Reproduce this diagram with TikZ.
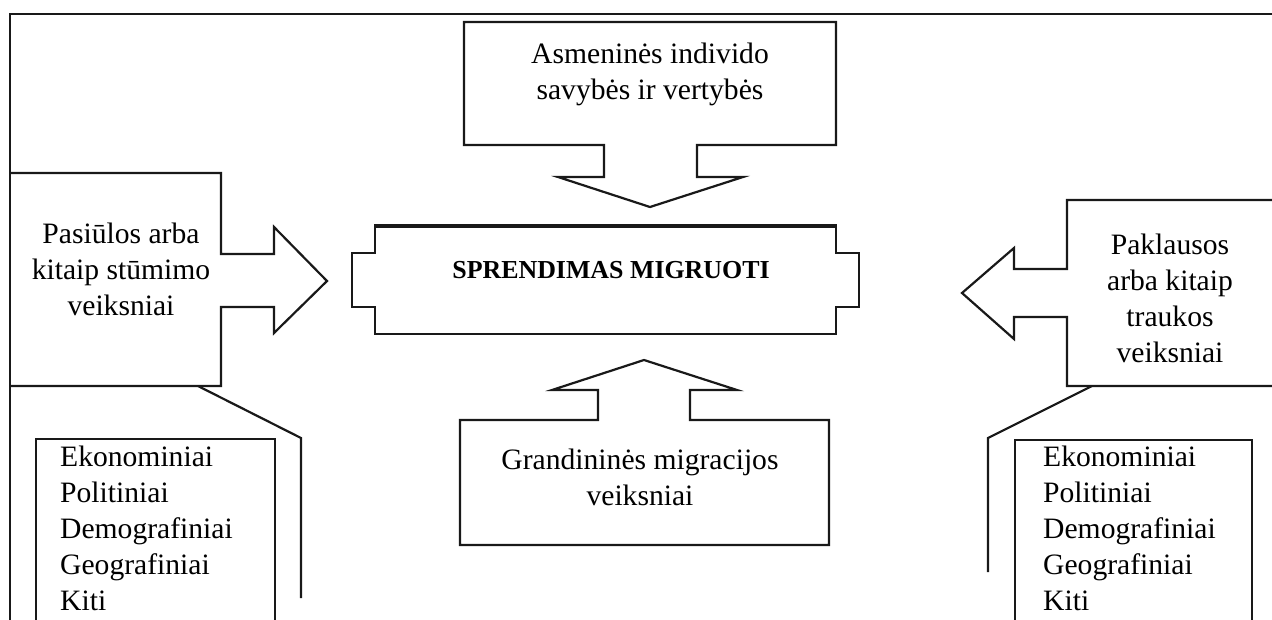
\documentclass[tikz,border=0pt]{standalone}
\usepackage{fontspec}
\setmainfont{Liberation Serif}
\begin{document}
\begin{tikzpicture}[x=1pt,y=-1pt,line join=miter,
  shp/.style={draw=black!90, line width=2.2pt},
  lbl/.style={font=\fontsize{29.6}{35.8}\selectfont, align=center, inner sep=0pt, anchor=base},
  lst/.style={font=\fontsize{29.6}{35.8}\selectfont, align=left, inner sep=0pt, anchor=base west}]
\useasboundingbox (0,0) rectangle (1272,619);
\begin{scope}
\clip (0,0) rectangle (1272,619);
% outer frame
\draw[shp, line width=2.6pt] (10,640) -- (10,14) -- (1290,14);
% left box with arrow
\draw[shp] (10,173) -- (221,173) -- (221,254) -- (274,254) -- (274,227) -- (327,281) -- (274,333) -- (274,307) -- (221,307) -- (221,386) -- (10,386);
% left connector
\coordinate (lc1) at (198,386);
\coordinate (lc2) at (301,438);
\coordinate (lc3) at (301,598);
\draw[shp] (lc1) -- (lc2) -- (lc3);
% left list box
\draw[shp] (36,640) -- (36,439) -- (275,439) -- (275,640);
% top box
\draw[shp] (604,145) -- (464,145) -- (464,22) -- (836,22) -- (836,145) -- (697,145) -- (697,177) -- (743,177) -- (650,207) -- (558,177) -- (604,177) -- cycle;
% center box
\draw[shp] (375,226) -- (836,226) -- (836,253) -- (859,253) -- (859,307) -- (836,307) -- (836,334) -- (375,334) -- (375,307) -- (352,307) -- (352,253) -- (375,253) -- cycle;
\draw[shp, line width=3.6pt] (374,226) -- (837,226);
% bottom box with arrow
\draw[shp] (598,420) -- (598,390) -- (552,390) -- (644,360) -- (737,390) -- (690,390) -- (690,420) -- (829,420) -- (829,545) -- (460,545) -- (460,420) -- cycle;
% right box with arrow
\draw[shp] (1290,200) -- (1067,200) -- (1067,269) -- (1014,269) -- (1014,248) -- (962,293) -- (1014,339) -- (1014,317) -- (1067,317) -- (1067,386) -- (1290,386);
% right connector
\coordinate (rc1) at (1092,386);
\coordinate (rc2) at (988,438);
\coordinate (rc3) at (988,572);
\draw[shp] (rc1) -- (rc2) -- (rc3);
% right list box
\draw[shp] (1015,640) -- (1015,440) -- (1252,440) -- (1252,640);
\end{scope}
% texts (anchor base = baseline of the last line)
\node[lbl] (asm) at (650,99) {Asmeninės individo\\savybės ir vertybės};
\node[lbl] (push) at (121,315) {Pasiūlos arba\\kitaip stūmimo\\veiksniai};
\node[lbl] (pull) at (1170,362) {Paklausos\\arba kitaip\\traukos\\veiksniai};
\node[lbl] (chain) at (640,505) {Grandininės migracijos\\veiksniai};
\node[inner sep=0pt, anchor=base, font=\fontsize{25.9}{30}\selectfont\bfseries] (dec) at (611,278) {SPRENDIMAS MIGRUOTI};
\node[lst] (llist) at (60,610) {Ekonominiai\\Politiniai\\Demografiniai\\Geografiniai\\Kiti};
\node[lst] (rlist) at (1043,610) {Ekonominiai\\Politiniai\\Demografiniai\\Geografiniai\\Kiti};
\end{tikzpicture}
\end{document}
